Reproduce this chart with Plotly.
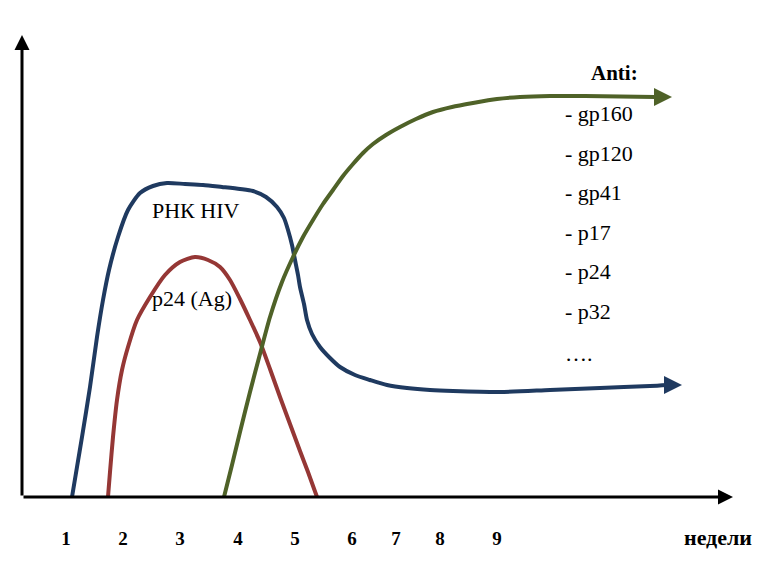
import plotly.graph_objects as go

# Horizontal positions (chart units) and vertical levels for each curve
rna_x = [72, 77, 82, 90, 97, 103, 109, 118, 128, 140, 153, 167, 185, 203, 222, 240, 253, 266,
         277, 284, 288, 292, 295, 298, 300, 304, 307, 312, 320, 330, 340, 355, 370, 387, 407,
         430, 453, 500, 550, 600, 650, 668]
rna_y = [0, 30, 60, 110, 160, 197, 227, 260, 287, 304, 311, 314, 313, 312, 310, 308, 306, 300,
         290, 279, 267, 252, 237, 222, 210, 193, 177, 163, 150, 139, 130, 122, 117, 112, 109,
         107, 106, 105, 107, 109, 111, 112]

p24_x = [108, 110, 113, 117, 122, 128, 137, 150, 165, 180, 195, 208, 220, 230, 240, 250, 260,
         270, 280, 290, 300, 308, 317]
p24_y = [0, 25, 60, 97, 127, 150, 177, 200, 222, 235, 240, 237, 230, 217, 198, 177, 155,
         128, 100, 73, 46, 25, 0]

anti_x = [224, 232, 240, 250, 260, 270, 282, 293, 303, 313, 323, 333, 343, 353, 363, 373, 386,
          400, 416, 433, 452, 473, 497, 520, 550, 585, 620, 655]
anti_y = [0, 32, 65, 105, 143, 180, 215, 240, 260, 277, 293, 307, 321, 333, 344, 353, 362,
          370, 378, 385, 390, 394, 398, 400, 401, 401, 400.5, 400]

week_pos = [66, 123, 180, 238, 295, 352, 396, 440, 497]
week_labels = ["1", "2", "3", "4", "5", "6", "7", "8", "9"]
unit_label = "недели"
unit_pos = 718

anti_title = "Anti:"
anti_items = ["- gp160", "- gp120", "- gp41", "- p17", "- p24", "- p32", "…."]
anti_item_y = [384, 344, 305, 265, 226, 186, 144]

BLUE = "#1F3A60"
RED = "#953735"
GREEN = "#4F6228"
SERIF = "Liberation Serif, Times New Roman, serif"

fig = go.Figure()
for xs, ys, nm, col in [(rna_x, rna_y, "РНК HIV", BLUE), (p24_x, p24_y, "p24 (Ag)", RED),
                        (anti_x, anti_y, "Anti", GREEN)]:
    fig.add_trace(go.Scatter(x=xs, y=ys, mode="lines", name=nm,
                             line=dict(color=col, width=4, shape="spline", smoothing=0.7)))

annotations = []
# axes drawn as arrows
annotations.append(dict(x=733, y=0, ax=22, ay=0, xref="x", yref="y", axref="x", ayref="y",
                        showarrow=True, arrowhead=2, arrowsize=1, arrowwidth=3,
                        arrowcolor="black", text=""))
annotations.append(dict(x=22, y=462, ax=22, ay=0, xref="x", yref="y", axref="x", ayref="y",
                        showarrow=True, arrowhead=2, arrowsize=1, arrowwidth=3,
                        arrowcolor="black", text=""))
# curve arrowheads
annotations.append(dict(x=682, y=rna_y[-1], ax=rna_x[-1], ay=rna_y[-1], xref="x", yref="y",
                        axref="x", ayref="y", showarrow=True, arrowhead=2, arrowsize=0.9,
                        arrowwidth=4, arrowcolor=BLUE, text=""))
annotations.append(dict(x=672, y=anti_y[-1], ax=anti_x[-1], ay=anti_y[-1], xref="x", yref="y",
                        axref="x", ayref="y", showarrow=True, arrowhead=2, arrowsize=0.9,
                        arrowwidth=4, arrowcolor=GREEN, text=""))
# curve labels
annotations.append(dict(x=196, y=287, xref="x", yref="y", text="РНК HIV", showarrow=False,
                        font=dict(family=SERIF, size=22, color="black")))
annotations.append(dict(x=192, y=199, xref="x", yref="y", text="p24 (Ag)", showarrow=False,
                        font=dict(family=SERIF, size=22, color="black")))
annotations.append(dict(x=614, y=424, xref="x", yref="y", text="<b>" + anti_title + "</b>",
                        showarrow=False, font=dict(family=SERIF, size=21, color="black")))
for t, yy in zip(anti_items, anti_item_y):
    annotations.append(dict(x=563, y=yy, xref="x", yref="y", text=t, showarrow=False,
                            xanchor="left", font=dict(family=SERIF, size=22, color="black")))

tick_text = ["<b>" + s + "</b>" for s in week_labels]
tick_text.append('<span style="font-size:22px"><b>' + unit_label + "</b></span>")

fig.update_layout(
    width=772, height=573,
    margin=dict(l=14, r=0, t=0, b=84, pad=0),
    paper_bgcolor="white", plot_bgcolor="white",
    showlegend=False,
    annotations=annotations,
    xaxis=dict(range=[22, 780], showgrid=False, zeroline=False, showline=False,
               tickvals=week_pos + [unit_pos], ticktext=tick_text,
               ticks="", ticklabelstandoff=28,
               tickfont=dict(family=SERIF, size=19, color="black"), fixedrange=True),
    yaxis=dict(range=[0, 489], visible=False, fixedrange=True),
)

fig.write_html("out.html")
